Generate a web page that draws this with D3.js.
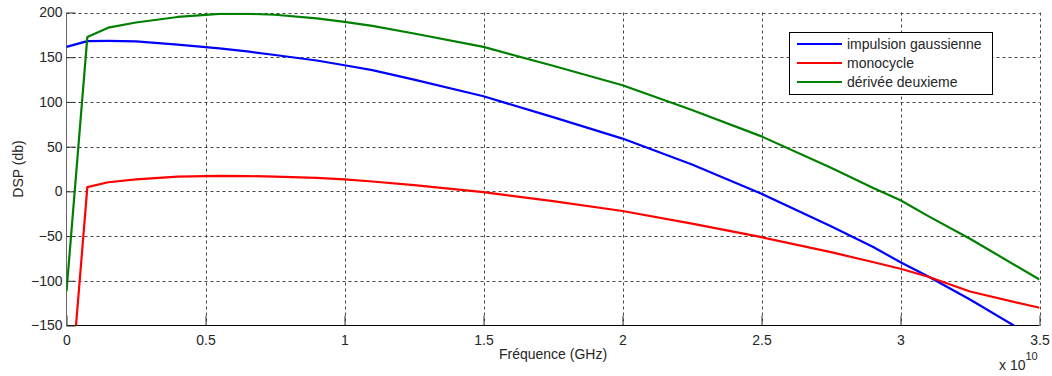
<!DOCTYPE html>
<html>
<head>
<meta charset="utf-8">
<script src="https://cdn.jsdelivr.net/npm/d3@7"></script>
<style>
  html, body { margin: 0; padding: 0; background: #fff; }
  svg { display: block; font-family: "Liberation Sans", Arial, sans-serif; }
</style>
</head>
<body>
<svg id="chart" width="1052" height="376"></svg>
<script>
// Frequency samples, in units of 1e10 Hz
const freq = [0, 0.075, 0.15, 0.25, 0.4, 0.55, 0.65, 0.75, 0.9, 1.0, 1.1, 1.25, 1.5, 1.75, 2.0, 2.25, 2.5, 2.75, 2.9, 3.0, 3.1, 3.25, 3.5];

// Power spectral density (dB) for each pulse shape
const gaussien = [161.5, 168, 168.2, 167.8, 164, 159.8, 156.5, 152.5, 146.3, 141, 135.5, 125, 106.3, 83, 59, 30, -2.6, -39, -62, -79.2, -95.2, -121, -167];
const monocycle = [-280, 4.8, 10.2, 13.5, 16.5, 17.3, 17.1, 16.5, 15, 13.4, 11, 7, -0.8, -11, -22, -36, -51.2, -68, -79, -86.6, -95.5, -112, -130.2];
const deuxieme = [-112, 172.7, 183, 188.8, 195, 198.5, 198.6, 197.5, 193.5, 189.5, 185, 176.5, 161.5, 140.5, 118.6, 91, 61.5, 26.5, 4, -10, -27.7, -53, -98.6];

const seriesNames = ["impulsion gaussienne", "monocycle", "dérivée deuxieme"];
const seriesColors = ["#0000ff", "#ff0000", "#008000"];

const xTicks = [0, 0.5, 1, 1.5, 2, 2.5, 3, 3.5];
const yTicks = [-150, -100, -50, 0, 50, 100, 150, 200];

const svg = d3.select("#chart");
const plotLeft = 66.5, plotRight = 1039.5, plotTop = 12.5, plotBottom = 325.5;

const x = d3.scaleLinear().domain([0, 3.5]).range([plotLeft, plotRight]);
const y = d3.scaleLinear().domain([-150, 200]).range([plotBottom, plotTop]);

// Dashed grid
const grid = svg.append("g");
grid.selectAll("line.h").data(yTicks.filter(v => v !== -150)).join("line")
  .attr("x1", plotLeft).attr("x2", plotRight)
  .attr("y1", d => Math.round(y(d)) + 0.5).attr("y2", d => Math.round(y(d)) + 0.5)
  .attr("stroke", "#444").attr("stroke-width", 1).attr("stroke-dasharray", "3,3");
grid.selectAll("line.v").data(xTicks.filter(v => v !== 0)).join("line")
  .attr("x1", d => Math.round(x(d)) + 0.5).attr("x2", d => Math.round(x(d)) + 0.5)
  .attr("y1", plotTop).attr("y2", plotBottom)
  .attr("stroke", "#444").attr("stroke-width", 1).attr("stroke-dasharray", "3,3");

// Axes (inward ticks)
const xAxis = d3.axisBottom(x).tickValues(xTicks).tickSize(-10).tickPadding(10)
  .tickFormat(d => d3.format("~g")(d));
const yAxis = d3.axisLeft(y).tickValues(yTicks).tickSize(-9).tickPadding(4)
  .tickFormat(d => d3.format("~g")(d));

const gx = svg.append("g").attr("transform", `translate(0,${plotBottom})`).call(xAxis);
gx.select(".domain").attr("stroke", "#000").attr("d", `M${plotLeft},0H${plotRight}`);
gx.selectAll(".tick line").attr("stroke", "#333");
gx.selectAll(".tick text").attr("font-size", 14).attr("fill", "#262626")
  .attr("font-family", "Liberation Sans, Arial, sans-serif");

const gy = svg.append("g").attr("transform", `translate(${plotLeft},0)`).call(yAxis);
gy.select(".domain").attr("stroke", "#666").attr("d", `M0,${plotTop}V${plotBottom}`);
gy.selectAll(".tick line").attr("stroke", "#333");
gy.selectAll(".tick text").attr("font-size", 14).attr("fill", "#262626")
  .attr("font-family", "Liberation Sans, Arial, sans-serif");

// Clip the curves to the plotting area
svg.append("clipPath").attr("id", "plotArea").append("rect")
  .attr("x", plotLeft).attr("y", plotTop)
  .attr("width", plotRight - plotLeft).attr("height", plotBottom - plotTop);

const line = d3.line().x((d, i) => x(freq[i])).y(d => y(d));
const allSeries = [gaussien, monocycle, deuxieme];
svg.append("g").attr("clip-path", "url(#plotArea)")
  .selectAll("path").data(allSeries).join("path")
  .attr("d", d => line(d))
  .attr("fill", "none")
  .attr("stroke", (d, i) => seriesColors[i])
  .attr("stroke-width", 2.2)
  .attr("stroke-linejoin", "round");

// Axis labels
svg.append("text").attr("x", (plotLeft + plotRight) / 2).attr("y", 359)
  .attr("text-anchor", "middle").attr("font-size", 14).attr("fill", "#262626")
  .text("Fréquence (GHz)");
svg.append("text")
  .attr("transform", `translate(23,${(plotTop + plotBottom) / 2}) rotate(-90)`)
  .attr("text-anchor", "middle").attr("font-size", 14).attr("fill", "#262626")
  .text("DSP (db)");

// Exponent label
const expo = svg.append("text").attr("x", 999).attr("y", 370)
  .attr("font-size", 14).attr("fill", "#262626");
expo.append("tspan").text("x 10");
expo.append("tspan").attr("font-size", 11).attr("dy", -10).text("10");

// Legend
const legend = svg.append("g");
legend.append("rect").attr("x", 789.5).attr("y", 32.5).attr("width", 203).attr("height", 62)
  .attr("fill", "#fff").attr("stroke", "#000").attr("stroke-width", 1);
const rows = legend.selectAll("g.row").data(seriesNames).join("g")
  .attr("transform", (d, i) => `translate(0,${44 + i * 19})`);
rows.append("line").attr("x1", 797).attr("x2", 842).attr("y1", 0).attr("y2", 0)
  .attr("stroke", (d, i) => seriesColors[i]).attr("stroke-width", 2.2);
rows.append("text").attr("x", 847).attr("y", 0).attr("dy", "0.35em")
  .attr("font-size", 14).attr("fill", "#262626").text(d => d);
</script>
</body>
</html>
